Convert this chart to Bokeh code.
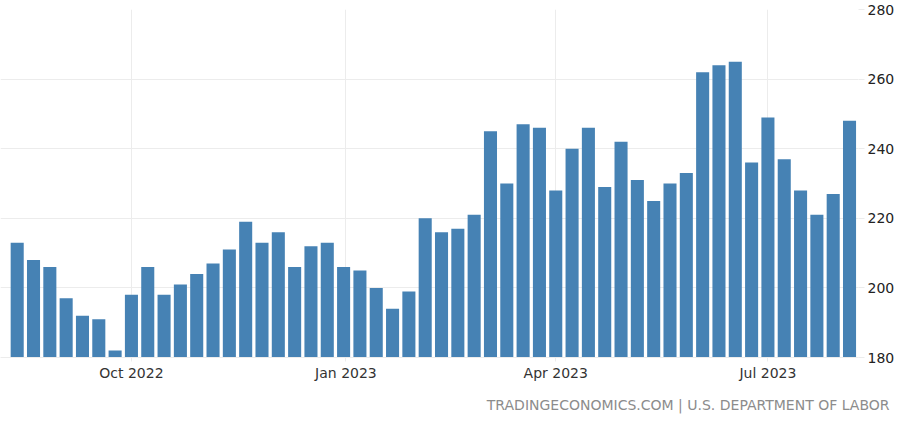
import datetime as dt
from bokeh.plotting import figure
from bokeh.models import (ColumnDataSource, Range1d, FixedTicker, LinearAxis,
                          DatetimeTickFormatter, Title)
from bokeh.embed import file_html
from bokeh.resources import INLINE

# weekly initial jobless claims (thousands), week ending dates
start_week = dt.datetime(2022, 8, 13)
claims = [213, 208, 206, 197, 192, 191, 182, 198, 206, 198, 201, 204, 207, 211,
          219, 213, 216, 206, 212, 213, 206, 205, 200, 194, 199, 220, 216, 217,
          221, 245, 230, 247, 246, 228, 240, 246, 229, 242, 231, 225, 230, 233,
          262, 264, 265, 236, 249, 237, 228, 221, 227, 248]
weeks = [start_week + dt.timedelta(weeks=i) for i in range(len(claims))]
tick_dates = [dt.datetime(2022, 10, 1), dt.datetime(2023, 1, 1),
              dt.datetime(2023, 4, 1), dt.datetime(2023, 7, 1)]
y_ticks = [180, 200, 220, 240, 260, 280]
source_text = "TRADINGECONOMICS.COM | U.S. DEPARTMENT OF LABOR"

def ms(d):
    return (d - dt.datetime(1970, 1, 1)).total_seconds() * 1000.0

WEEK = 7 * 24 * 3600 * 1000.0
src = ColumnDataSource(dict(x=weeks, y=claims))

x0 = ms(weeks[0]) - 1.023 * WEEK
x1 = ms(weeks[-1]) + 0.55 * WEEK

p = figure(width=900, height=423, x_axis_type="datetime", y_axis_location=None,
           output_backend="svg", toolbar_location=None,
           x_range=Range1d(x0, x1), y_range=Range1d(180, 280),
           min_border_left=0, min_border_top=9, min_border_right=42,
           min_border_bottom=66)
p.outline_line_color = None
p.background_fill_color = "white"
p.border_fill_color = "white"

p.vbar(x="x", top="y", bottom=180, width=0.8 * WEEK, source=src,
       fill_color="#4682B4", line_color=None)

grid_col = "#ececec"
p.xgrid.ticker = FixedTicker(ticks=[ms(d) for d in tick_dates])
p.xgrid.grid_line_color = grid_col
p.ygrid.grid_line_color = grid_col

xa = p.xaxis[0]
xa.ticker = FixedTicker(ticks=[ms(d) for d in tick_dates])
fmt = "%b %Y"
xa.formatter = DatetimeTickFormatter(years=fmt, months=fmt, days=fmt, hours=fmt,
                                     minutes=fmt, seconds=fmt, milliseconds=fmt,
                                     microseconds=fmt, hourmin=fmt, minsec=fmt)
xa.axis_line_color = grid_col
xa.major_tick_line_color = grid_col
xa.major_tick_in = 0
xa.major_tick_out = 4
xa.minor_tick_line_color = None
xa.major_label_standoff = 3
xa.major_label_text_font = "DejaVu Sans"
xa.major_label_text_font_size = "14px"
xa.major_label_text_color = "#333333"

ya = LinearAxis(ticker=FixedTicker(ticks=y_ticks))
ya.axis_line_color = None
ya.major_tick_line_color = grid_col
ya.major_tick_in = 0
ya.major_tick_out = 6
ya.minor_tick_line_color = None
ya.major_label_standoff = 3
ya.major_label_text_font = "DejaVu Sans"
ya.major_label_text_font_size = "14px"
ya.major_label_text_color = "#222222"
p.add_layout(ya, "right")
p.ygrid.ticker = FixedTicker(ticks=y_ticks)

t = Title(text=source_text, align="right", vertical_align="bottom",
          text_font="DejaVu Sans", text_font_size="14px",
          text_font_style="normal", text_line_height=1.0,
          text_color="#8c8c8c", standoff=22, offset=-31)
p.add_layout(t, "below")

open("out.html", "w").write(file_html(p, INLINE))
